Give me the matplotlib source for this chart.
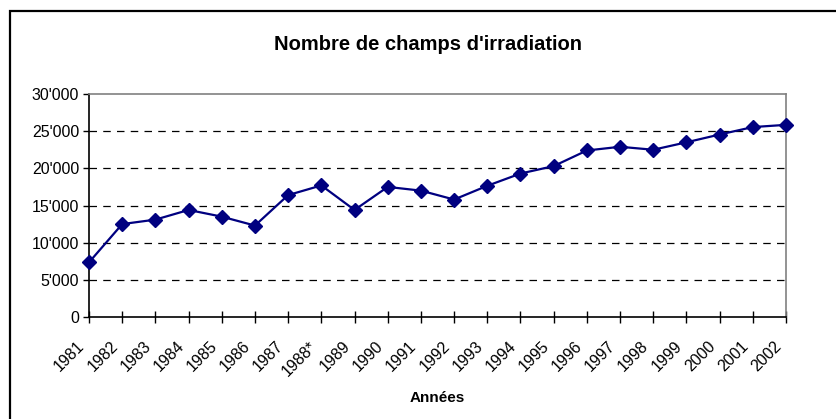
import matplotlib.pyplot as plt
import matplotlib.patches as patches
import matplotlib.transforms as mtransforms
from matplotlib.ticker import FuncFormatter

plt.rcParams['font.family'] = ['Liberation Sans', 'DejaVu Sans']

years = ["1981", "1982", "1983", "1984", "1985", "1986", "1987", "1988*",
         "1989", "1990", "1991", "1992", "1993", "1994", "1995", "1996",
         "1997", "1998", "1999", "2000", "2001", "2002"]
fields = [7350, 12500, 13100, 14400, 13500, 12300, 16400, 17700,
          14400, 17500, 17000, 15800, 17650, 19300, 20300, 22400,
          22900, 22500, 23500, 24550, 25550, 25850]

W, H = 837, 419
fig = plt.figure(figsize=(W / 100, H / 100), dpi=100)

# outer frame (cut off at right and bottom like the original)
fig.patches.append(patches.Rectangle((9.5 / W, -0.05), 1.1, 1 - 11 / H + 0.05,
                                     transform=fig.transFigure, fill=False,
                                     edgecolor='black', linewidth=1.6))

left, right, top, bottom = 89, 786, 94, 317
ax = fig.add_axes([left / W, 1 - bottom / H, (right - left) / W, (bottom - top) / H])

x = list(range(len(years)))
ax.plot(x, fields, color='#000080', linewidth=1.6, marker='D', markersize=7,
        zorder=3, clip_on=False)

ax.set_xlim(0, len(years) - 1)
ax.set_ylim(0, 30000)
ax.set_yticks(range(0, 30001, 5000))
ax.yaxis.set_major_formatter(FuncFormatter(lambda v, p: "0" if v == 0 else f"{int(v):,}".replace(",", "'")))
ax.set_xticks(x)
ax.set_xticklabels([])

# rotated year labels, sitting well below the axis and a little left of each tick
offset = mtransforms.ScaledTranslation(-7 / 100, -27 / 100, fig.dpi_scale_trans)
for xi, yr in zip(x, years):
    ax.text(xi, 0, yr, transform=ax.get_xaxis_transform() + offset,
            rotation=45, ha='right', va='center', rotation_mode='anchor',
            fontsize=11.5, clip_on=False)

for v in range(5000, 30000, 5000):
    ax.axhline(v, color='black', linestyle=(0, (6, 5)), linewidth=0.9, zorder=1)

ax.spines['top'].set_color('#808080')
ax.spines['right'].set_color('#808080')
ax.spines['top'].set_linewidth(1.2)
ax.spines['right'].set_linewidth(1.2)
ax.spines['left'].set_linewidth(1.2)
ax.spines['bottom'].set_linewidth(1.2)

ax.tick_params(axis='x', direction='inout', length=8, width=1)
ax.tick_params(axis='y', direction='out', length=4, width=1, labelsize=11.5, pad=3)

fig.text(428 / W, 1 - 44 / H, "Nombre de champs d'irradiation", ha='center', va='center',
         fontsize=14.5, fontweight='bold')
fig.text(437 / W, 1 - 398 / H, "Années", ha='center', va='center',
         fontsize=11, fontweight='bold')

fig.savefig("out.png", dpi=100)
